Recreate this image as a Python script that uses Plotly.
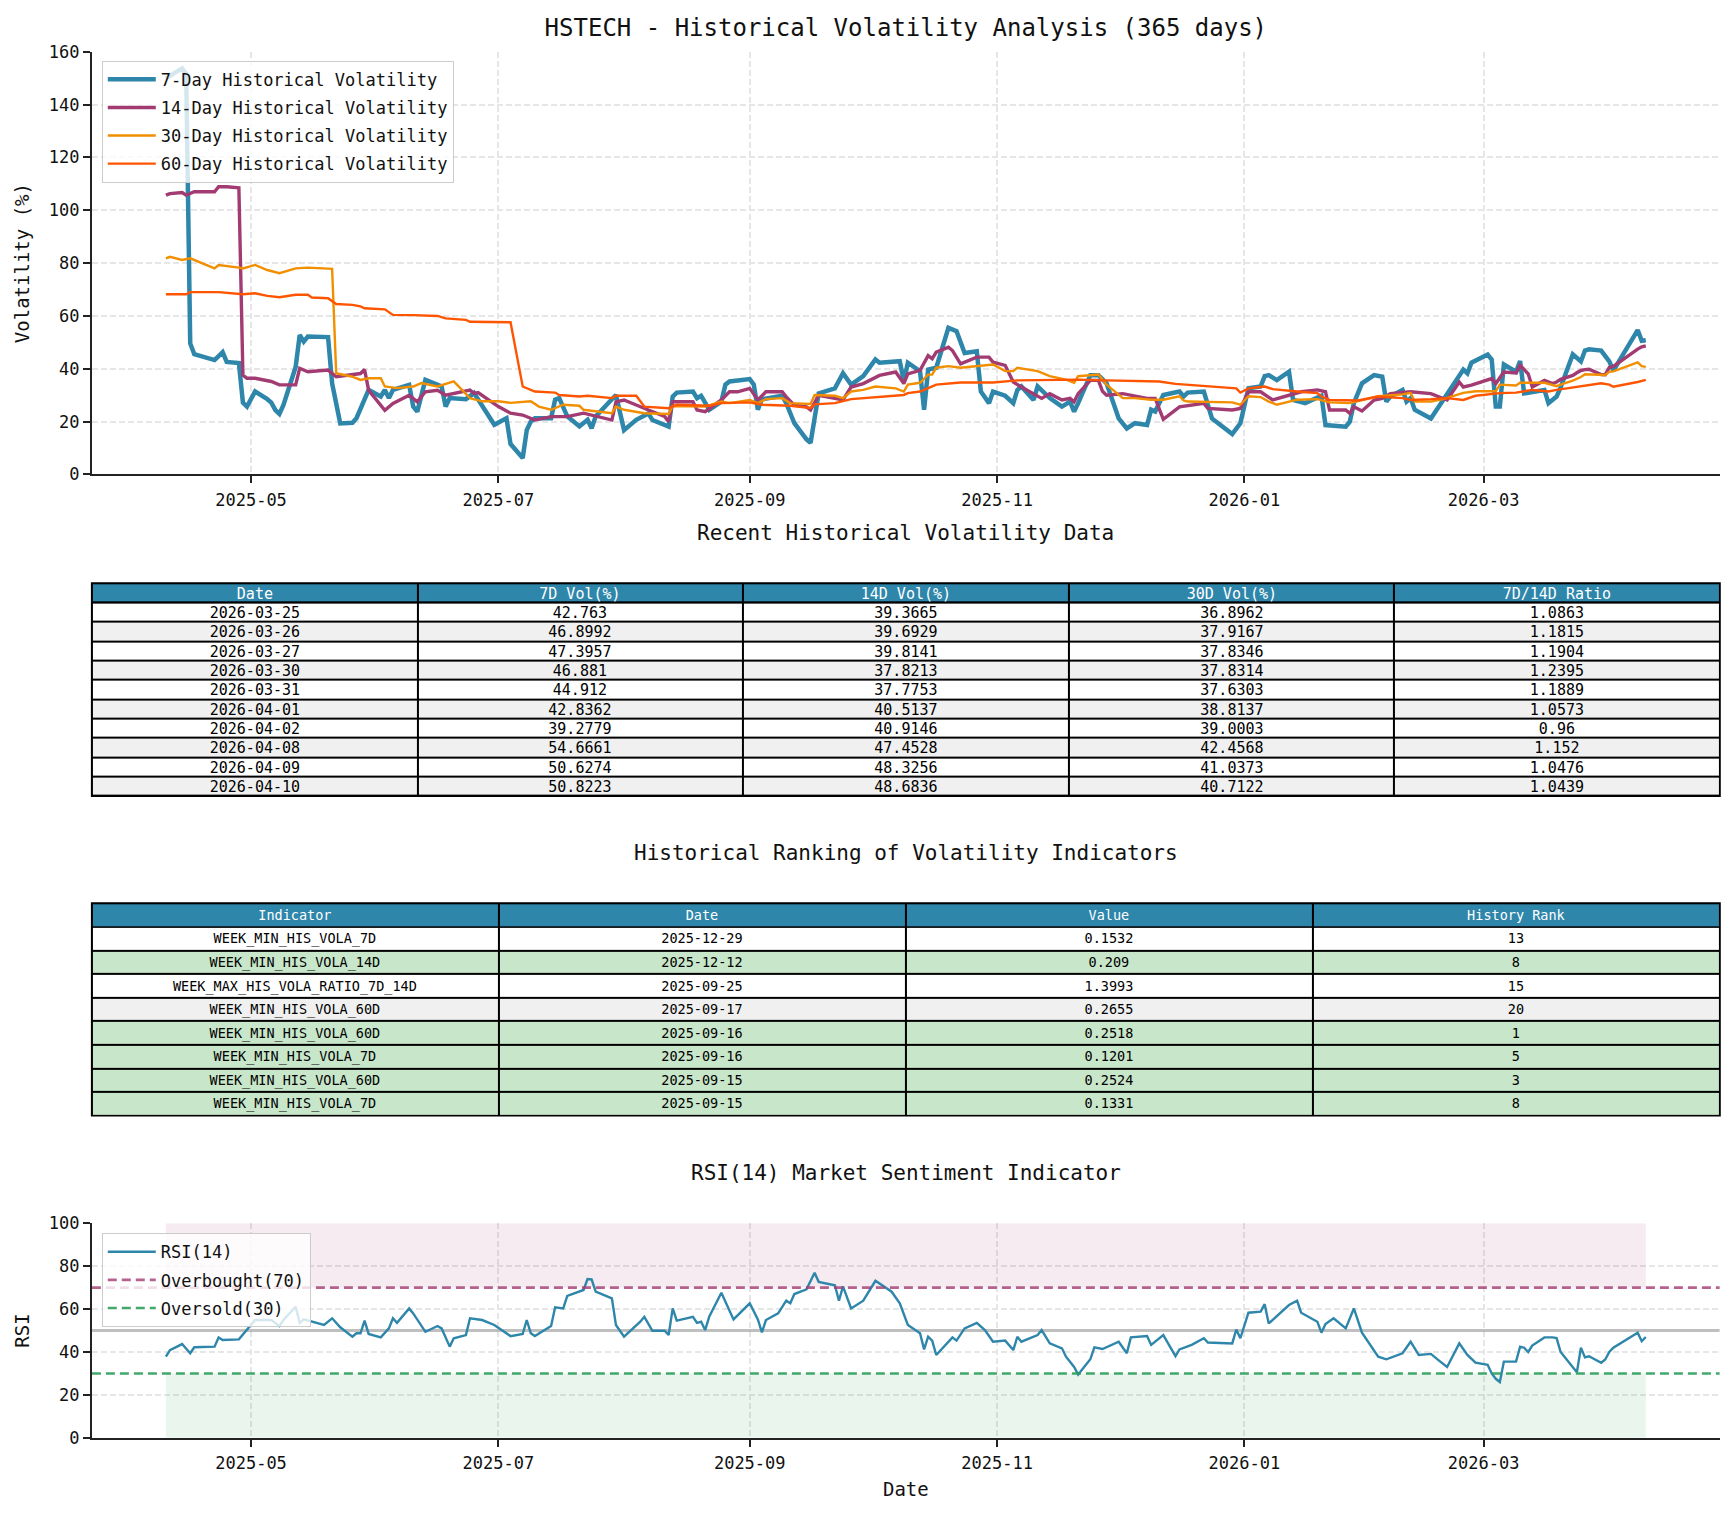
import pandas as pd
import plotly.graph_objects as go

FONT = "DejaVu Sans Mono"
W, H = 1734, 1513

# ---------------- data ----------------
recent_dates = ["2026-03-25", "2026-03-26", "2026-03-27", "2026-03-30", "2026-03-31",
                "2026-04-01", "2026-04-02", "2026-04-08", "2026-04-09", "2026-04-10"]
recent_vol7 = [42.763, 46.8992, 47.3957, 46.881, 44.912, 42.8362, 39.2779, 54.6661, 50.6274, 50.8223]
recent_vol14 = [39.3665, 39.6929, 39.8141, 37.8213, 37.7753, 40.5137, 40.9146, 47.4528, 48.3256, 48.6836]
recent_vol30 = [36.8962, 37.9167, 37.8346, 37.8314, 37.6303, 38.8137, 39.0003, 42.4568, 41.0373, 40.7122]
recent_ratio = [1.0863, 1.1815, 1.1904, 1.2395, 1.1889, 1.0573, 0.96, 1.152, 1.0476, 1.0439]

rank_indicators = ["WEEK_MIN_HIS_VOLA_7D", "WEEK_MIN_HIS_VOLA_14D", "WEEK_MAX_HIS_VOLA_RATIO_7D_14D",
                   "WEEK_MIN_HIS_VOLA_60D", "WEEK_MIN_HIS_VOLA_60D", "WEEK_MIN_HIS_VOLA_7D",
                   "WEEK_MIN_HIS_VOLA_60D", "WEEK_MIN_HIS_VOLA_7D"]
rank_dates = ["2025-12-29", "2025-12-12", "2025-09-25", "2025-09-17",
              "2025-09-16", "2025-09-16", "2025-09-15", "2025-09-15"]
rank_values = [0.1532, 0.209, 1.3993, 0.2655, 0.2518, 0.1201, 0.2524, 0.1331]
rank_history = [13, 8, 15, 20, 1, 5, 3, 8]

vol7_hist = [
    ("2025-04-10", 149.9), ("2025-04-14", 153.7), ("2025-04-15", 151.5), ("2025-04-16", 49.6),
    ("2025-04-17", 45.5), ("2025-04-22", 43.3), ("2025-04-24", 46.3), ("2025-04-25", 42.6),
    ("2025-04-28", 42.2), ("2025-04-29", 27.2), ("2025-04-30", 25.7), ("2025-05-02", 31.4),
    ("2025-05-05", 28.5), ("2025-05-06", 27.2), ("2025-05-07", 24.4), ("2025-05-08", 22.9),
    ("2025-05-09", 26.3), ("2025-05-12", 40.7), ("2025-05-13", 52.8), ("2025-05-14", 50.3),
    ("2025-05-15", 52.2), ("2025-05-20", 52.0), ("2025-05-21", 34.5), ("2025-05-23", 19.3),
    ("2025-05-26", 19.6), ("2025-05-27", 21.3), ("2025-05-30", 32.0), ("2025-06-02", 29.5),
    ("2025-06-03", 32.0), ("2025-06-04", 28.9), ("2025-06-05", 32.0), ("2025-06-09", 33.9),
    ("2025-06-10", 25.7), ("2025-06-11", 23.8), ("2025-06-13", 35.8), ("2025-06-17", 33.3),
    ("2025-06-18", 25.7), ("2025-06-19", 28.9), ("2025-06-23", 28.5), ("2025-06-25", 30.8),
    ("2025-06-30", 18.8), ("2025-07-03", 21.3), ("2025-07-04", 11.5), ("2025-07-07", 6.2),
    ("2025-07-08", 16.8), ("2025-07-09", 20.0), ("2025-07-10", 21.3), ("2025-07-14", 21.3),
    ("2025-07-15", 28.3), ("2025-07-16", 28.9), ("2025-07-18", 22.0), ("2025-07-21", 18.2),
    ("2025-07-23", 20.7), ("2025-07-24", 17.5), ("2025-07-25", 22.0), ("2025-07-30", 30.1),
    ("2025-08-01", 16.8), ("2025-08-04", 20.7), ("2025-08-07", 23.1), ("2025-08-08", 20.6),
    ("2025-08-12", 18.1), ("2025-08-13", 29.5), ("2025-08-14", 31.0), ("2025-08-18", 31.4),
    ("2025-08-19", 28.9), ("2025-08-20", 29.8), ("2025-08-22", 24.5), ("2025-08-25", 27.6),
    ("2025-08-26", 34.0), ("2025-08-27", 35.2), ("2025-09-01", 36.1), ("2025-09-02", 34.0),
    ("2025-09-03", 24.5), ("2025-09-04", 28.5), ("2025-09-09", 29.8), ("2025-09-10", 27.0),
    ("2025-09-12", 19.4), ("2025-09-15", 13.3), ("2025-09-16", 12.0), ("2025-09-17", 21.0),
    ("2025-09-18", 30.7), ("2025-09-22", 32.6), ("2025-09-24", 38.3), ("2025-09-26", 34.0),
    ("2025-09-29", 37.2), ("2025-10-02", 43.5), ("2025-10-03", 42.3), ("2025-10-08", 42.9),
    ("2025-10-09", 35.2), ("2025-10-10", 42.3), ("2025-10-13", 39.1), ("2025-10-14", 24.5),
    ("2025-10-15", 39.7), ("2025-10-17", 40.4), ("2025-10-20", 55.5), ("2025-10-22", 54.2),
    ("2025-10-24", 46.0), ("2025-10-27", 46.6), ("2025-10-28", 31.4), ("2025-10-30", 27.0),
    ("2025-10-31", 31.4), ("2025-11-03", 29.8), ("2025-11-05", 27.0), ("2025-11-06", 32.0),
    ("2025-11-07", 33.3), ("2025-11-10", 28.2), ("2025-11-11", 33.3), ("2025-11-14", 28.9),
    ("2025-11-17", 25.7), ("2025-11-19", 27.6), ("2025-11-20", 23.8), ("2025-11-21", 27.0),
    ("2025-11-24", 37.6), ("2025-11-26", 37.6), ("2025-11-28", 34.5), ("2025-12-01", 21.2),
    ("2025-12-03", 17.4), ("2025-12-05", 19.4), ("2025-12-08", 18.7), ("2025-12-09", 24.5),
    ("2025-12-10", 23.8), ("2025-12-12", 30.1), ("2025-12-16", 31.4), ("2025-12-17", 29.5),
    ("2025-12-18", 31.0), ("2025-12-22", 31.4), ("2025-12-24", 21.2), ("2025-12-29", 15.3),
    ("2025-12-31", 19.4), ("2026-01-02", 32.6), ("2026-01-05", 33.3), ("2026-01-06", 37.2),
    ("2026-01-07", 37.6), ("2026-01-09", 35.7), ("2026-01-12", 38.9), ("2026-01-13", 28.2),
    ("2026-01-16", 27.0), ("2026-01-20", 29.8), ("2026-01-21", 18.7), ("2026-01-26", 18.1),
    ("2026-01-27", 20.0), ("2026-01-28", 27.0), ("2026-01-30", 34.5), ("2026-02-02", 37.6),
    ("2026-02-04", 37.0), ("2026-02-05", 27.6), ("2026-02-06", 29.5), ("2026-02-09", 32.0),
    ("2026-02-10", 27.6), ("2026-02-11", 28.9), ("2026-02-12", 24.5), ("2026-02-16", 21.2),
    ("2026-02-20", 30.1), ("2026-02-24", 39.7), ("2026-02-25", 38.3), ("2026-02-26", 42.3),
    ("2026-03-02", 45.4), ("2026-03-03", 43.5), ("2026-03-04", 25.7), ("2026-03-05", 25.7),
    ("2026-03-06", 41.6), ("2026-03-09", 38.9), ("2026-03-10", 42.9), ("2026-03-11", 30.7),
    ("2026-03-16", 32.0), ("2026-03-17", 27.0), ("2026-03-19", 29.5), ("2026-03-20", 33.0),
    ("2026-03-23", 45.5), ("2026-03-24", 44.0),
]

vol14_hist = [
    ("2025-04-10", 105.7), ("2025-04-11", 106.3), ("2025-04-14", 106.7), ("2025-04-15", 105.7),
    ("2025-04-17", 107.0), ("2025-04-22", 107.0), ("2025-04-23", 108.9), ("2025-04-25", 108.9),
    ("2025-04-28", 108.5), ("2025-04-29", 37.6), ("2025-04-30", 36.4), ("2025-05-02", 36.4),
    ("2025-05-06", 35.2), ("2025-05-08", 33.9), ("2025-05-12", 33.9), ("2025-05-13", 40.2),
    ("2025-05-15", 38.9), ("2025-05-20", 39.5), ("2025-05-22", 37.0), ("2025-05-28", 38.2),
    ("2025-05-29", 39.7), ("2025-05-30", 31.9), ("2025-06-03", 24.3), ("2025-06-05", 26.9),
    ("2025-06-09", 30.0), ("2025-06-11", 27.5), ("2025-06-13", 31.3), ("2025-06-16", 31.9),
    ("2025-06-18", 30.0), ("2025-06-24", 31.9), ("2025-06-25", 30.7), ("2025-06-26", 31.0),
    ("2025-07-01", 25.7), ("2025-07-04", 23.2), ("2025-07-07", 22.5), ("2025-07-10", 20.6),
    ("2025-07-14", 21.9), ("2025-07-18", 21.9), ("2025-07-22", 23.2), ("2025-07-29", 20.6),
    ("2025-07-30", 27.5), ("2025-08-01", 28.2), ("2025-08-07", 24.4), ("2025-08-11", 22.0),
    ("2025-08-12", 20.0), ("2025-08-13", 27.5), ("2025-08-18", 27.5), ("2025-08-19", 24.4),
    ("2025-08-21", 23.8), ("2025-08-25", 28.2), ("2025-08-27", 31.3), ("2025-08-29", 31.3),
    ("2025-09-01", 32.6), ("2025-09-03", 28.2), ("2025-09-05", 31.3), ("2025-09-09", 31.3),
    ("2025-09-10", 29.4), ("2025-09-12", 26.2), ("2025-09-15", 25.6), ("2025-09-16", 24.4),
    ("2025-09-18", 30.0), ("2025-09-22", 28.8), ("2025-09-24", 28.2), ("2025-09-26", 33.1),
    ("2025-09-29", 34.4), ("2025-10-03", 37.5), ("2025-10-07", 38.8), ("2025-10-09", 34.4),
    ("2025-10-10", 38.1), ("2025-10-13", 39.4), ("2025-10-15", 45.0), ("2025-10-16", 43.8),
    ("2025-10-17", 46.3), ("2025-10-20", 48.2), ("2025-10-21", 46.9), ("2025-10-23", 41.9),
    ("2025-10-27", 44.4), ("2025-10-30", 44.4), ("2025-10-31", 42.5), ("2025-11-03", 41.3),
    ("2025-11-05", 35.0), ("2025-11-07", 33.1), ("2025-11-12", 28.8), ("2025-11-14", 30.6),
    ("2025-11-17", 28.2), ("2025-11-19", 28.8), ("2025-11-20", 27.5), ("2025-11-21", 30.6),
    ("2025-11-24", 35.6), ("2025-11-26", 35.6), ("2025-11-27", 31.5), ("2025-11-28", 30.0),
    ("2025-12-02", 30.6), ("2025-12-08", 28.8), ("2025-12-10", 28.8), ("2025-12-12", 20.9),
    ("2025-12-16", 25.6), ("2025-12-22", 26.9), ("2025-12-23", 25.0), ("2025-12-29", 24.4),
    ("2025-12-31", 25.0), ("2026-01-02", 31.3), ("2026-01-05", 31.3), ("2026-01-08", 28.2),
    ("2026-01-12", 30.0), ("2026-01-15", 31.3), ("2026-01-19", 32.0), ("2026-01-21", 31.3),
    ("2026-01-22", 24.4), ("2026-01-26", 24.4), ("2026-01-27", 23.1), ("2026-01-28", 25.6),
    ("2026-01-30", 24.0), ("2026-02-02", 28.2), ("2026-02-04", 28.8), ("2026-02-06", 30.6),
    ("2026-02-11", 31.3), ("2026-02-16", 30.6), ("2026-02-20", 28.2), ("2026-02-23", 35.0),
    ("2026-02-24", 33.1), ("2026-02-26", 33.8), ("2026-03-03", 36.3), ("2026-03-04", 34.4),
    ("2026-03-06", 38.8), ("2026-03-09", 38.4), ("2026-03-10", 41.3), ("2026-03-12", 38.1),
    ("2026-03-13", 33.1), ("2026-03-16", 35.6), ("2026-03-18", 34.4), ("2026-03-19", 35.0),
    ("2026-03-20", 36.0), ("2026-03-23", 37.5), ("2026-03-24", 38.5),
]

vol30_hist = [
    ("2025-04-10", 81.8), ("2025-04-11", 82.4), ("2025-04-14", 81.2), ("2025-04-16", 81.8),
    ("2025-04-22", 78.0), ("2025-04-23", 79.3), ("2025-04-28", 78.3), ("2025-04-29", 78.0),
    ("2025-05-02", 79.3), ("2025-05-05", 77.4), ("2025-05-08", 76.2), ("2025-05-12", 78.0),
    ("2025-05-15", 78.3), ("2025-05-21", 77.8), ("2025-05-22", 38.3), ("2025-05-26", 37.0),
    ("2025-05-28", 35.8), ("2025-05-30", 36.4), ("2025-06-02", 36.4), ("2025-06-03", 33.3),
    ("2025-06-06", 32.7), ("2025-06-10", 33.3), ("2025-06-12", 34.6), ("2025-06-16", 33.3),
    ("2025-06-20", 35.2), ("2025-06-24", 28.9), ("2025-06-27", 27.7), ("2025-07-01", 27.7),
    ("2025-07-04", 27.1), ("2025-07-09", 27.7), ("2025-07-11", 25.7), ("2025-07-14", 24.5),
    ("2025-07-17", 26.4), ("2025-07-21", 26.0), ("2025-07-22", 24.5), ("2025-07-29", 23.2),
    ("2025-07-30", 25.7), ("2025-08-01", 24.5), ("2025-08-06", 23.2), ("2025-08-12", 22.9),
    ("2025-08-13", 25.9), ("2025-08-21", 25.7), ("2025-08-25", 27.6), ("2025-08-27", 27.0),
    ("2025-09-01", 28.2), ("2025-09-03", 27.0), ("2025-09-05", 28.5), ("2025-09-09", 28.9),
    ("2025-09-11", 27.0), ("2025-09-16", 26.7), ("2025-09-17", 30.1), ("2025-09-22", 29.8),
    ("2025-09-24", 28.9), ("2025-09-26", 31.4), ("2025-09-29", 32.0), ("2025-10-02", 33.3),
    ("2025-10-07", 32.6), ("2025-10-09", 31.4), ("2025-10-10", 34.0), ("2025-10-13", 34.7),
    ("2025-10-15", 37.8), ("2025-10-16", 37.8), ("2025-10-17", 40.4), ("2025-10-20", 41.0),
    ("2025-10-23", 40.4), ("2025-10-29", 41.2), ("2025-10-31", 41.6), ("2025-11-03", 39.1),
    ("2025-11-05", 39.1), ("2025-11-06", 40.4), ("2025-11-11", 39.1), ("2025-11-14", 37.2),
    ("2025-11-18", 35.9), ("2025-11-20", 34.7), ("2025-11-21", 37.2), ("2025-11-26", 37.8),
    ("2025-11-28", 34.0), ("2025-12-02", 28.9), ("2025-12-05", 28.9), ("2025-12-09", 28.3),
    ("2025-12-12", 28.3), ("2025-12-16", 29.6), ("2025-12-17", 28.0), ("2025-12-18", 27.6),
    ("2025-12-29", 27.3), ("2025-12-31", 26.4), ("2026-01-02", 29.6), ("2026-01-05", 29.3),
    ("2026-01-07", 27.6), ("2026-01-09", 26.4), ("2026-01-12", 27.6), ("2026-01-14", 28.3),
    ("2026-01-19", 28.5), ("2026-01-22", 27.3), ("2026-01-27", 27.0), ("2026-01-30", 28.0),
    ("2026-02-03", 29.6), ("2026-02-09", 30.3), ("2026-02-11", 30.9), ("2026-02-12", 27.6),
    ("2026-02-16", 27.6), ("2026-02-19", 28.5), ("2026-02-24", 30.9), ("2026-02-27", 31.5),
    ("2026-03-04", 31.5), ("2026-03-05", 34.0), ("2026-03-09", 33.7), ("2026-03-10", 34.7),
    ("2026-03-16", 34.7), ("2026-03-19", 33.4), ("2026-03-20", 34.0), ("2026-03-23", 35.5),
    ("2026-03-24", 36.2),
]

vol60_points = [
    ("2025-04-10", 68.2), ("2025-04-15", 68.2), ("2025-04-16", 69.0), ("2025-04-23", 69.0),
    ("2025-04-29", 68.2), ("2025-05-02", 68.6), ("2025-05-05", 67.6), ("2025-05-08", 67.1),
    ("2025-05-12", 68.0), ("2025-05-15", 68.0), ("2025-05-16", 67.0), ("2025-05-20", 66.7),
    ("2025-05-22", 64.5), ("2025-05-26", 64.2), ("2025-05-28", 63.6), ("2025-05-29", 62.9),
    ("2025-06-03", 62.5), ("2025-06-05", 60.4), ("2025-06-10", 60.3), ("2025-06-16", 60.0),
    ("2025-06-18", 59.1), ("2025-06-23", 58.5), ("2025-06-24", 57.8), ("2025-07-04", 57.6),
    ("2025-07-07", 33.3), ("2025-07-10", 31.4), ("2025-07-15", 31.0), ("2025-07-16", 30.1),
    ("2025-07-21", 29.5), ("2025-07-23", 29.8), ("2025-07-29", 28.9), ("2025-07-30", 29.8),
    ("2025-08-04", 29.8), ("2025-08-06", 25.7), ("2025-08-12", 25.1), ("2025-08-14", 26.4),
    ("2025-08-22", 26.0), ("2025-08-25", 27.0), ("2025-09-01", 27.3), ("2025-09-04", 26.4),
    ("2025-09-11", 26.0), ("2025-09-15", 25.24), ("2025-09-16", 25.18), ("2025-09-17", 26.55),
    ("2025-09-22", 27.0), ("2025-09-26", 28.5), ("2025-10-03", 29.5), ("2025-10-09", 30.1),
    ("2025-10-10", 30.8), ("2025-10-13", 31.4), ("2025-10-15", 32.7), ("2025-10-16", 33.3),
    ("2025-10-17", 34.0), ("2025-10-23", 34.8), ("2025-10-29", 34.6), ("2025-10-31", 34.8),
    ("2025-11-06", 35.6), ("2025-11-14", 35.9), ("2025-11-21", 35.9), ("2025-11-28", 35.6),
    ("2025-12-05", 35.5), ("2025-12-11", 35.2), ("2025-12-15", 34.3), ("2025-12-22", 33.5),
    ("2025-12-30", 32.6), ("2025-12-31", 31.0), ("2026-01-02", 32.6), ("2026-01-06", 33.3),
    ("2026-01-08", 32.3), ("2026-01-14", 31.4), ("2026-01-19", 30.8), ("2026-01-20", 29.5),
    ("2026-01-22", 28.2), ("2026-01-29", 28.0), ("2026-02-03", 29.5), ("2026-02-09", 28.9),
    ("2026-02-11", 28.2), ("2026-02-16", 28.5), ("2026-02-20", 28.9), ("2026-02-24", 28.2),
    ("2026-02-27", 29.8), ("2026-03-05", 30.8), ("2026-03-09", 31.0), ("2026-03-13", 32.0),
    ("2026-03-17", 31.4), ("2026-03-19", 32.0), ("2026-03-23", 33.0), ("2026-03-25", 33.5),
    ("2026-03-27", 34.0), ("2026-03-30", 34.5), ("2026-04-01", 34.0), ("2026-04-02", 33.2),
    ("2026-04-08", 35.0), ("2026-04-09", 35.5), ("2026-04-10", 35.8),
]

rsi_points = [
    ("2025-04-10", 37.8), ("2025-04-11", 40.9), ("2025-04-14", 43.7), ("2025-04-16", 39.4),
    ("2025-04-17", 42.2), ("2025-04-22", 42.5), ("2025-04-23", 46.8), ("2025-04-24", 45.6),
    ("2025-04-28", 45.9), ("2025-05-02", 54.9), ("2025-05-06", 54.9), ("2025-05-08", 52.1),
    ("2025-05-09", 54.9), ("2025-05-12", 61.1), ("2025-05-13", 53.6), ("2025-05-14", 55.2),
    ("2025-05-19", 52.6), ("2025-05-21", 55.7), ("2025-05-23", 51.5), ("2025-05-26", 47.1),
    ("2025-05-27", 48.7), ("2025-05-28", 48.7), ("2025-05-29", 54.6), ("2025-05-30", 48.4),
    ("2025-06-02", 46.8), ("2025-06-04", 51.0), ("2025-06-05", 55.7), ("2025-06-06", 53.6),
    ("2025-06-09", 60.3), ("2025-06-10", 58.0), ("2025-06-13", 49.4), ("2025-06-16", 52.1),
    ("2025-06-17", 51.0), ("2025-06-19", 42.5), ("2025-06-20", 46.4), ("2025-06-23", 47.9),
    ("2025-06-24", 55.7), ("2025-06-27", 54.9), ("2025-06-30", 52.6), ("2025-07-04", 47.4),
    ("2025-07-07", 48.4), ("2025-07-08", 54.9), ("2025-07-09", 48.7), ("2025-07-10", 47.4),
    ("2025-07-14", 52.1), ("2025-07-15", 60.8), ("2025-07-17", 60.3), ("2025-07-18", 66.1),
    ("2025-07-22", 68.9), ("2025-07-23", 74.0), ("2025-07-24", 73.8), ("2025-07-25", 68.1),
    ("2025-07-29", 65.0), ("2025-07-30", 52.6), ("2025-08-01", 47.1), ("2025-08-05", 54.1),
    ("2025-08-06", 56.4), ("2025-08-08", 49.9), ("2025-08-11", 49.9), ("2025-08-12", 47.9),
    ("2025-08-13", 60.3), ("2025-08-14", 54.6), ("2025-08-18", 56.4), ("2025-08-19", 53.6),
    ("2025-08-20", 54.1), ("2025-08-21", 50.2), ("2025-08-22", 56.4), ("2025-08-25", 67.6),
    ("2025-08-28", 55.2), ("2025-09-01", 62.7), ("2025-09-03", 55.2), ("2025-09-04", 49.1),
    ("2025-09-05", 54.9), ("2025-09-08", 58.0), ("2025-09-10", 63.9), ("2025-09-11", 62.7),
    ("2025-09-12", 67.0), ("2025-09-15", 69.2), ("2025-09-17", 76.9), ("2025-09-18", 72.7),
    ("2025-09-22", 71.1), ("2025-09-23", 63.9), ("2025-09-24", 70.6), ("2025-09-26", 60.3),
    ("2025-09-29", 63.9), ("2025-10-02", 73.2), ("2025-10-06", 68.1), ("2025-10-08", 62.7),
    ("2025-10-10", 52.6), ("2025-10-13", 48.7), ("2025-10-14", 41.2), ("2025-10-15", 47.1),
    ("2025-10-16", 45.3), ("2025-10-17", 38.6), ("2025-10-21", 46.8), ("2025-10-22", 45.3),
    ("2025-10-24", 51.0), ("2025-10-27", 53.6), ("2025-10-29", 50.2), ("2025-10-31", 44.8),
    ("2025-11-03", 45.3), ("2025-11-05", 40.9), ("2025-11-06", 47.1), ("2025-11-07", 44.8),
    ("2025-11-11", 47.9), ("2025-11-12", 50.2), ("2025-11-14", 44.0), ("2025-11-17", 41.7),
    ("2025-11-18", 37.8), ("2025-11-20", 33.0), ("2025-11-21", 29.5), ("2025-11-24", 36.6),
    ("2025-11-25", 42.2), ("2025-11-27", 41.4), ("2025-12-01", 44.8), ("2025-12-03", 39.4),
    ("2025-12-04", 46.8), ("2025-12-08", 47.4), ("2025-12-09", 43.3), ("2025-12-10", 44.8),
    ("2025-12-12", 47.9), ("2025-12-15", 38.1), ("2025-12-16", 41.2), ("2025-12-19", 43.3),
    ("2025-12-22", 46.4), ("2025-12-23", 44.4), ("2025-12-29", 44.0), ("2025-12-30", 50.5),
    ("2025-12-31", 46.4), ("2026-01-02", 58.3), ("2026-01-05", 58.8), ("2026-01-06", 62.3),
    ("2026-01-07", 53.3), ("2026-01-12", 61.9), ("2026-01-14", 63.9), ("2026-01-15", 58.3),
    ("2026-01-19", 54.1), ("2026-01-20", 49.0), ("2026-01-21", 53.0), ("2026-01-23", 55.7),
    ("2026-01-26", 51.0), ("2026-01-28", 60.3), ("2026-01-30", 49.0), ("2026-02-03", 37.8),
    ("2026-02-05", 36.6), ("2026-02-09", 39.4), ("2026-02-11", 44.8), ("2026-02-13", 38.6),
    ("2026-02-16", 39.1), ("2026-02-18", 36.0), ("2026-02-20", 33.0), ("2026-02-23", 44.0),
    ("2026-02-25", 38.6), ("2026-02-27", 35.0), ("2026-03-02", 34.0), ("2026-03-03", 30.0),
    ("2026-03-04", 27.5), ("2026-03-05", 26.0), ("2026-03-06", 35.5), ("2026-03-09", 35.5),
    ("2026-03-10", 42.5), ("2026-03-11", 42.0), ("2026-03-12", 40.0), ("2026-03-13", 43.0),
    ("2026-03-16", 46.8), ("2026-03-18", 46.8), ("2026-03-19", 46.5), ("2026-03-20", 40.0),
    ("2026-03-23", 33.0), ("2026-03-24", 30.5), ("2026-03-25", 42.0), ("2026-03-26", 37.5),
    ("2026-03-27", 38.0), ("2026-03-30", 35.0), ("2026-03-31", 36.5), ("2026-04-01", 40.0),
    ("2026-04-02", 42.0), ("2026-04-08", 49.0), ("2026-04-09", 45.0), ("2026-04-10", 47.0),
]

OVERBOUGHT, OVERSOLD, MIDLINE = 70, 30, 50


def build(hist, recent_vals=None):
    d = [p[0] for p in hist]
    v = [p[1] for p in hist]
    if recent_vals is not None:
        d += recent_dates
        v += recent_vals
    return pd.to_datetime(d), v


d7, v7 = build(vol7_hist, recent_vol7)
d14, v14 = build(vol14_hist, recent_vol14)
d30, v30 = build(vol30_hist, recent_vol30)
d60, v60 = build(vol60_points)
drsi, vrsi = build(rsi_points)

start, end = d7.min(), d7.max()
pad = (end - start) * 0.05
x_lo, x_hi = start - pad, end + pad

# ---------------- styling ----------------
C7, C14, C30, C60 = "#2E86AB", "#A23B72", "#F18F01", "#FF5500"
GRID = "#E6E6E6"
AX = "#222222"
XD = [0.0530, 0.9918]
XC = (XD[0] + XD[1]) / 2

fig = go.Figure()

for name, dd, vv, col, w in [
    ("7-Day Historical Volatility", d7, v7, C7, 4.5),
    ("14-Day Historical Volatility", d14, v14, C14, 3.4),
    ("30-Day Historical Volatility", d30, v30, C30, 2.4),
    ("60-Day Historical Volatility", d60, v60, C60, 2.4),
]:
    fig.add_trace(go.Scatter(x=dd, y=vv, mode="lines", name=name, legendgroup=name,
                             line=dict(color=col, width=w),
                             xaxis="x", yaxis="y", legend="legend"))

# RSI shading bands over the data span
fig.add_trace(go.Scatter(x=[start, end, end, start], y=[OVERBOUGHT, OVERBOUGHT, 100, 100],
                         fill="toself", fillcolor="rgba(162,59,114,0.10)",
                         line=dict(width=0), mode="lines", showlegend=False,
                         hoverinfo="skip", xaxis="x2", yaxis="y2"))
fig.add_trace(go.Scatter(x=[start, end, end, start], y=[0, 0, OVERSOLD, OVERSOLD],
                         fill="toself", fillcolor="rgba(46,158,91,0.10)",
                         line=dict(width=0), mode="lines", showlegend=False,
                         hoverinfo="skip", xaxis="x2", yaxis="y2"))
fig.add_trace(go.Scatter(x=[x_lo, x_hi], y=[MIDLINE, MIDLINE], mode="lines",
                         line=dict(color="rgba(128,128,128,0.5)", width=3),
                         showlegend=False, hoverinfo="skip", xaxis="x2", yaxis="y2"))
fig.add_trace(go.Scatter(x=drsi, y=vrsi, mode="lines", name="RSI(14)", legendgroup="rsi",
                         line=dict(color=C7, width=2.4), xaxis="x2", yaxis="y2",
                         legend="legend2"))
fig.add_trace(go.Scatter(x=[x_lo, x_hi], y=[OVERBOUGHT, OVERBOUGHT], mode="lines",
                         name="Overbought(70)", legendgroup="ob",
                         line=dict(color="rgba(162,59,114,0.8)", width=2.6, dash="9px,5px"),
                         xaxis="x2", yaxis="y2", legend="legend2"))
fig.add_trace(go.Scatter(x=[x_lo, x_hi], y=[OVERSOLD, OVERSOLD], mode="lines",
                         name="Oversold(30)", legendgroup="os",
                         line=dict(color="rgba(46,158,91,0.9)", width=2.6, dash="9px,5px"),
                         xaxis="x2", yaxis="y2", legend="legend2"))

# ---------------- tables drawn as heatmaps ----------------
t1_header = ["Date", "7D Vol(%)", "14D Vol(%)", "30D Vol(%)", "7D/14D Ratio"]
t1_text = [[d, str(a), str(b), str(c), str(r)]
           for d, a, b, c, r in zip(recent_dates, recent_vol7, recent_vol14, recent_vol30, recent_ratio)]
t1_codes = [[i % 2] * len(t1_header) for i in range(len(t1_text))]

t2_header = ["Indicator", "Date", "Value", "History Rank"]
t2_text = [[a, b, str(c), str(d)] for a, b, c, d in zip(rank_indicators, rank_dates, rank_values, rank_history)]
t2_codes = [[2 if rank_history[i] <= 10 else i % 2] * len(t2_header) for i in range(len(t2_text))]

body_scale = [[0, "#FFFFFF"], [0.5, "#F0F0F0"], [1, "#C8E6C9"]]


def add_table(header, text, codes, xa, ya, fsize):
    n = len(header)
    fig.add_trace(go.Heatmap(z=[[0] * n], x=list(range(n)), y=[0], text=[header],
                             texttemplate="%{text}", colorscale=[[0, C7], [1, C7]],
                             showscale=False, xgap=2, ygap=2, hoverinfo="skip",
                             textfont=dict(family=FONT, size=fsize, color="white"),
                             xaxis=xa, yaxis=ya))
    fig.add_trace(go.Heatmap(z=codes, x=list(range(n)), y=list(range(1, len(text) + 1)),
                             text=text, texttemplate="%{text}", colorscale=body_scale,
                             zmin=0, zmax=2, showscale=False, xgap=2, ygap=2,
                             hoverinfo="skip",
                             textfont=dict(family=FONT, size=fsize, color="black"),
                             xaxis=xa, yaxis=ya))
    fig.add_shape(type="rect", xref=f"{xa} domain", yref=f"{ya} domain",
                  x0=0, x1=1, y0=0, y1=1, fillcolor="black",
                  line=dict(color="black", width=2), layer="below")


add_table(t1_header, t1_text, t1_codes, "x3", "y3", 15)
add_table(t2_header, t2_text, t2_codes, "x4", "y4", 13.5)

# ---------------- layout ----------------
tickfont = dict(family=FONT, size=17, color="#111")
date_axis = dict(type="date", range=[x_lo, x_hi], dtick="M2", tick0="2025-05-01",
                 tickformat="%Y-%m", showgrid=True, gridcolor=GRID, griddash="6px,3px",
                 gridwidth=1.5, showline=True, linecolor=AX, linewidth=2, ticks="outside",
                 ticklen=7, tickwidth=1.7, tickcolor=AX, tickfont=tickfont, zeroline=False,
                 ticklabelstandoff=2, automargin=False)
val_axis = dict(showgrid=True, gridcolor=GRID, griddash="6px,3px", gridwidth=1.5,
                showline=True, linecolor=AX, linewidth=2, ticks="outside", ticklen=7,
                tickwidth=1.7, tickcolor=AX, tickfont=tickfont, zeroline=False, dtick=20,
                automargin=False)
hidden = dict(visible=False, showgrid=False, zeroline=False, fixedrange=True, automargin=False)

legend_style = dict(xanchor="left", yanchor="top", bgcolor="rgba(255,255,255,0.8)",
                    bordercolor="#CCCCCC", borderwidth=1, itemwidth=48, tracegroupgap=3,
                    font=dict(family=FONT, size=17, color="#111"))

fig.update_layout(
    width=W, height=H, margin=dict(l=0, r=0, t=0, b=0, pad=0), autosize=False,
    paper_bgcolor="white", plot_bgcolor="white",
    font=dict(family=FONT, color="#111"),
    title=dict(text="HSTECH - Historical Volatility Analysis (365 days)", x=XC,
               xanchor="center", y=0.9818, yanchor="middle", automargin=False,
               font=dict(family=FONT, size=24, color="#111")),
    xaxis=dict(domain=XD, anchor="y", **date_axis),
    yaxis=dict(domain=[0.6864, 0.9658], anchor="x", range=[0, 160],
               title=dict(text="Volatility (%)", font=dict(family=FONT, size=19), standoff=14),
               **val_axis),
    xaxis2=dict(domain=XD, anchor="y2",
                title=dict(text="Date", font=dict(family=FONT, size=19), standoff=10),
                **date_axis),
    yaxis2=dict(domain=[0.0497, 0.1915], anchor="x2", range=[0, 100],
                title=dict(text="RSI", font=dict(family=FONT, size=19), standoff=14),
                **val_axis),
    xaxis3=dict(domain=XD, anchor="y3", range=[-0.5, len(t1_header) - 0.5], **hidden),
    yaxis3=dict(domain=[0.4739, 0.6145], anchor="x3", range=[len(t1_text) + 0.5, -0.5], **hidden),
    xaxis4=dict(domain=XD, anchor="y4", range=[-0.5, len(t2_header) - 0.5], **hidden),
    yaxis4=dict(domain=[0.2627, 0.4030], anchor="x4", range=[len(t2_text) + 0.5, -0.5], **hidden),
    legend=dict(x=0.0587, y=0.9598, **legend_style),
    legend2=dict(x=0.0587, y=0.1849, **legend_style),
    annotations=[
        dict(text="Recent Historical Volatility Data", x=XC, y=0.6477, xref="paper", yref="paper",
             xanchor="center", yanchor="middle", showarrow=False,
             font=dict(family=FONT, size=21, color="#111")),
        dict(text="Historical Ranking of Volatility Indicators", x=XC, y=0.4360, xref="paper",
             yref="paper", xanchor="center", yanchor="middle", showarrow=False,
             font=dict(family=FONT, size=21, color="#111")),
        dict(text="RSI(14) Market Sentiment Indicator", x=XC, y=0.2245, xref="paper", yref="paper",
             xanchor="center", yanchor="middle", showarrow=False,
             font=dict(family=FONT, size=21, color="#111")),
    ],
)

fig.write_html("out.html", config={"displayModeBar": False},
               post_script="document.body.style.margin='0';document.body.style.overflow='hidden';")
